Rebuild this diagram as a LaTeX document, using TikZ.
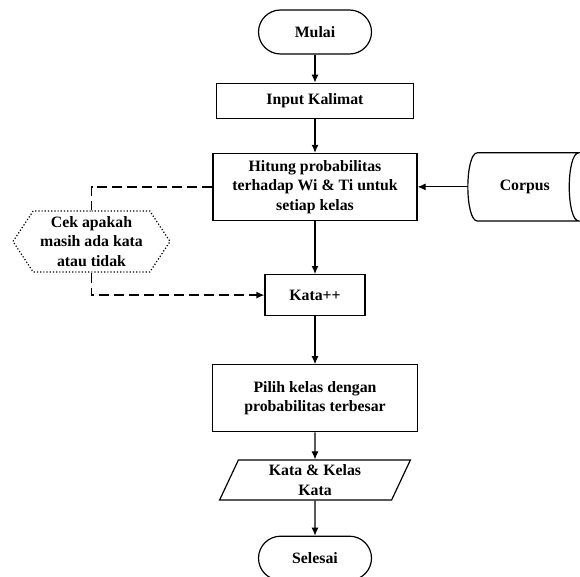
\documentclass[tikz,border=0pt]{standalone}
\usepackage{fontspec}
\setmainfont{Liberation Serif}
\usetikzlibrary{positioning,shapes.geometric,shapes.symbols,arrows.meta}

\begin{document}
\begin{tikzpicture}[x=1pt, y=1pt,
    font=\bfseries\fontsize{15.8}{19.5}\selectfont,
    terminal/.style={draw, line width=1.2pt, rounded corners=22pt, minimum width=113pt, minimum height=44pt},
    proses/.style={draw, line width=1.2pt, align=center, minimum width=#1},
    panah/.style={-{Latex[length=8pt,width=7pt]}, line width=1.1pt},
    putus/.style={line width=1.3pt, dash pattern=on 10pt off 5pt}
]
    \useasboundingbox (0,0) rectangle (580,-577);

    \node[terminal] (mulai) at (315,-32) {Mulai};
    \node[proses=197pt, minimum height=35pt, below = 28pt of mulai] (input) {Input Kalimat};
    \node[proses=204pt, minimum height=67pt, below = 34pt of input] (hitung) {Hitung probabilitas\\terhadap Wi \& Ti untuk\\setiap kelas};
    \node[proses=100pt, minimum height=41pt, below = 53pt of hitung] (kata) {Kata++};
    \node[proses=205pt, minimum height=67pt, below = 48pt of kata] (pilih) {Pilih kelas dengan\\probabilitas terbesar};
    \node[trapezium, trapezium left angle=72, trapezium right angle=108, trapezium stretches=true,
          draw, line width=1.2pt, align=center, minimum width=191pt, minimum height=40pt,
          below = 27pt of pilih] (keluaran) {Kata \& Kelas\\Kata};
    \node[terminal, below = 35pt of keluaran] (selesai) {Selesai};
    \node[minimum width=114pt, minimum height=68pt, right = 50pt of hitung] (corpus) {Corpus};
    \node[signal, signal to=west and east, signal pointer angle=113, draw, dotted, line width=1.2pt,
          align=center, minimum width=157pt, minimum height=61pt, inner sep=1pt] (cek) at (91.5,-241.5)
          {Cek apakah\\masih ada kata\\atau tidak};

    \draw[line width=1.2pt] ([xshift=10pt]corpus.north west) -- ([xshift=-3pt]corpus.north east)
        .. controls ([xshift=-16pt]corpus.north east) and ([xshift=-16pt]corpus.south east) .. ([xshift=-3pt]corpus.south east)
        -- ([xshift=10pt]corpus.south west)
        .. controls ([xshift=-3pt]corpus.south west) and ([xshift=-3pt]corpus.north west) .. ([xshift=10pt]corpus.north west);

    \draw[panah] (mulai) -- (input);
    \draw[panah] (input) -- (hitung);
    \draw[panah] (hitung) -- (kata);
    \draw[panah] (kata) -- (pilih);
    \draw[panah] (pilih) -- (keluaran);
    \draw[panah] (keluaran) -- (selesai);
    \draw[panah] (corpus) -- (hitung);
    \draw[putus] (hitung.west) -| (cek.north);
    \draw[putus, -{Latex[length=8pt,width=7pt]}] (cek.south) |- (kata.west);
\end{tikzpicture}
\end{document}
